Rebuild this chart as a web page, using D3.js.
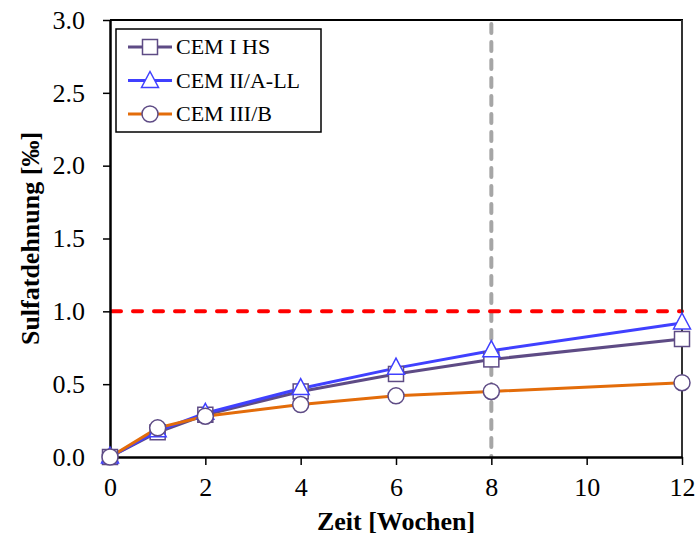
<!DOCTYPE html>
<html><head><meta charset="utf-8">
<script src="https://cdn.jsdelivr.net/npm/d3@7"></script>
<style>body{margin:0;background:#fff}</style>
</head><body>
<script>
const weeks = [0, 1, 2, 4, 6, 8, 12];
const cem1 = [0, 0.17, 0.29, 0.45, 0.57, 0.67, 0.81];
const cem2 = [0, 0.18, 0.30, 0.47, 0.61, 0.73, 0.92];
const cem3 = [0, 0.20, 0.28, 0.36, 0.42, 0.45, 0.51];
const seriesNames = ["CEM I HS", "CEM II/A-LL", "CEM III/B"];
const xTicks = [0, 2, 4, 6, 8, 10, 12];
const yTicks = [0, 0.5, 1.0, 1.5, 2.0, 2.5, 3.0];
const limitValue = 1.0;
const markWeek = 8;

const W = 697, H = 536;
const m = {l: 110, r: 15, t: 20, b: 79};
const svg = d3.select("body").append("svg").attr("width", W).attr("height", H);
const x = d3.scaleLinear().domain([0, 12]).range([m.l, W - m.r]);
const y = d3.scaleLinear().domain([0, 3]).range([H - m.b, m.t]);
const font = "'Liberation Serif', 'Times New Roman', serif";

// reference lines
svg.append("line").attr("x1", x(markWeek)).attr("x2", x(markWeek)).attr("y1", y(3) + 4).attr("y2", y(0))
  .attr("stroke", "#a6a6a6").attr("stroke-width", 4).attr("stroke-dasharray", "9,9").attr("stroke-linecap", "round");
svg.append("line").attr("x1", x(0) + 2).attr("x2", x(12)).attr("y1", y(limitValue)).attr("y2", y(limitValue))
  .attr("stroke", "#ff0000").attr("stroke-width", 4).attr("stroke-dasharray", "9,12").attr("stroke-linecap", "round");

// frame top/right
svg.append("line").attr("x1", x(0)).attr("x2", x(12) + 1).attr("y1", y(3)).attr("y2", y(3)).attr("stroke", "#000").attr("stroke-width", 2);
svg.append("line").attr("x1", x(12)).attr("x2", x(12)).attr("y1", y(3)).attr("y2", y(0)).attr("stroke", "#333").attr("stroke-width", 2);

// axes
const xAxis = svg.append("g").attr("transform", `translate(0,${y(0)})`)
  .call(d3.axisBottom(x).tickValues(xTicks).tickSize(8).tickSizeOuter(0).tickPadding(13).tickFormat(d3.format("d")));
const yAxis = svg.append("g").attr("transform", `translate(${x(0)},0)`)
  .call(d3.axisLeft(y).tickValues(yTicks).tickSize(7).tickSizeOuter(0).tickPadding(18).tickFormat(d3.format(".1f")));
[xAxis, yAxis].forEach(a => {
  a.select(".domain").attr("stroke", "#000").attr("stroke-width", 2.5);
  a.selectAll(".tick line").attr("stroke", "#000").attr("stroke-width", 1.5);
  a.selectAll(".tick text").attr("font-family", font).attr("font-size", 26).attr("fill", "#000");
});

// titles
svg.append("text").attr("x", x(6)).attr("y", 530).attr("text-anchor", "middle")
  .attr("font-family", font).attr("font-weight", "bold").attr("font-size", 26).text("Zeit [Wochen]");
svg.append("text").attr("transform", `translate(39,${(y(0) + y(3)) / 2}) rotate(-90)`).attr("text-anchor", "middle")
  .attr("font-family", font).attr("font-weight", "bold").attr("font-size", 26).text("Sulfatdehnung [‰]");

const series = [
  {name: seriesNames[0], vals: cem1, line: "#5e4b85", mk: "#5e4b85", shape: "square"},
  {name: seriesNames[1], vals: cem2, line: "#4040ff", mk: "#4040ff", shape: "triangle"},
  {name: seriesNames[2], vals: cem3, line: "#e36c0a", mk: "#5e4b85", shape: "circle"}
];
const line = d3.line().x((d, i) => x(weeks[i])).y(d => y(d));
function marker(g, shape, cx, cy, col) {
  if (shape === "square") g.append("rect").attr("x", cx - 7.5).attr("y", cy - 7.5).attr("width", 15).attr("height", 15)
    .attr("fill", "#fff").attr("stroke", col).attr("stroke-width", 1.5);
  else if (shape === "triangle") g.append("path").attr("d", `M${cx},${cy - 10}L${cx + 8.5},${cy + 6}L${cx - 8.5},${cy + 6}Z`)
    .attr("fill", "#fff").attr("stroke", col).attr("stroke-width", 1.5);
  else g.append("circle").attr("cx", cx).attr("cy", cy).attr("r", 8)
    .attr("fill", "#fff").attr("stroke", col).attr("stroke-width", 1.5);
}
series.forEach(s => {
  svg.append("path").attr("d", line(s.vals)).attr("fill", "none").attr("stroke", s.line).attr("stroke-width", 3);
});
series.forEach(s => {
  const g = svg.append("g");
  s.vals.forEach((v, i) => marker(g, s.shape, x(weeks[i]), y(v), s.mk));
});

// legend
const lg = svg.append("g");
lg.append("rect").attr("x", 116).attr("y", 29).attr("width", 205).attr("height", 103).attr("fill", "#fff").attr("stroke", "#000").attr("stroke-width", 1.5);
series.forEach((s, i) => {
  const cy = 47 + i * 33.5;
  lg.append("line").attr("x1", 128).attr("x2", 172).attr("y1", cy).attr("y2", cy).attr("stroke", s.line).attr("stroke-width", 3);
  marker(lg, s.shape, 150, cy + (s.shape === "triangle" ? 1 : 0), s.mk);
  lg.append("text").attr("x", 176).attr("y", cy + 7).attr("font-family", font).attr("font-size", 22).text(s.name);
});
</script>
</body></html>
